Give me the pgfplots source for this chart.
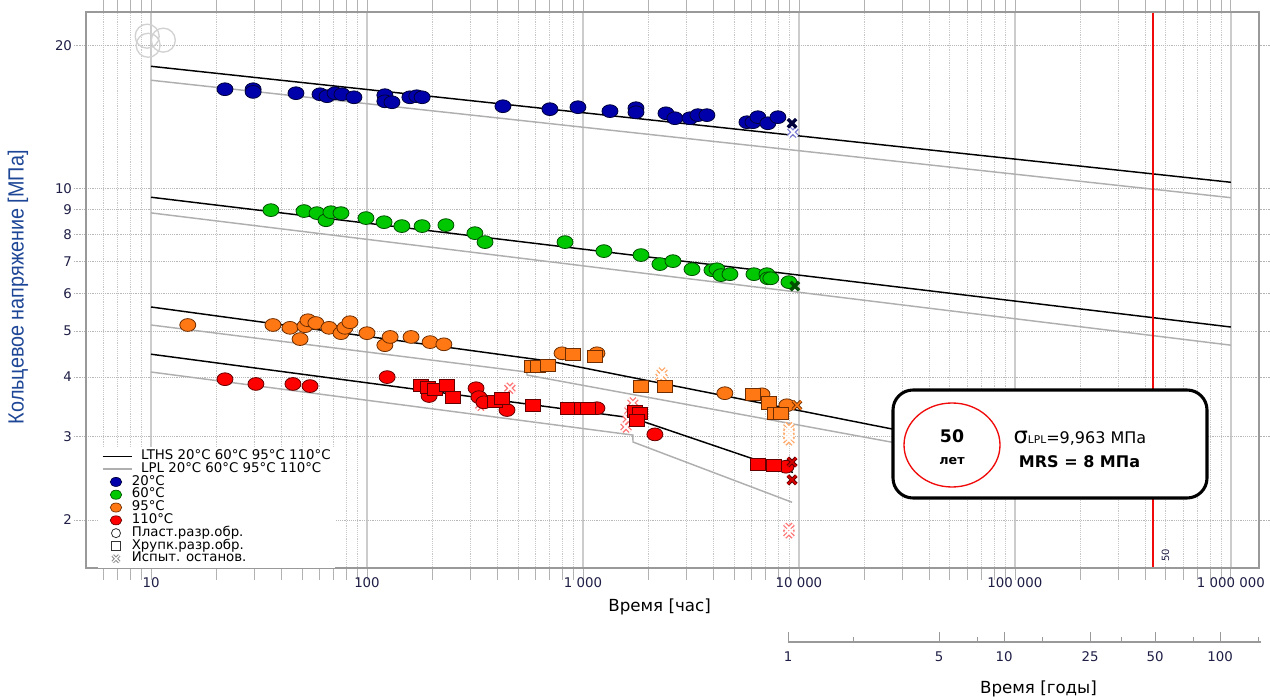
\documentclass[border=0pt]{standalone}
\usepackage{fontspec}
\setmainfont{DejaVu Sans}
\newfontfamily\ylabfont[FakeStretch=0.9]{Liberation Sans}
\usepackage{pgfplots}
\pgfplotsset{compat=1.18}
\definecolor{bluef}{RGB}{0,0,170}
\definecolor{blued}{RGB}{0,0,60}
\definecolor{greenf}{RGB}{0,200,0}
\definecolor{greend}{RGB}{0,80,0}
\definecolor{orangef}{RGB}{255,120,20}
\definecolor{oranged}{RGB}{110,45,0}
\definecolor{redf}{RGB}{255,0,0}
\definecolor{redd}{RGB}{100,0,0}
\definecolor{lpl}{RGB}{175,175,175}
\definecolor{ticktxt}{RGB}{30,30,70}
\definecolor{ylab}{RGB}{30,70,150}
\definecolor{redline}{RGB}{240,10,10}
\pgfplotsset{
 cm/.style 2 args={only marks, mark=*, mark size=6pt, mark options={solid, yscale=0.8, line width=0.6pt, draw=#2, fill=#1}},
 sm/.style 2 args={only marks, mark=square*, mark size=5.5pt, mark options={solid, yscale=0.82, line width=0.6pt, draw=#2, fill=#1}},
 xd/.style 2 args={only marks, mark=x, mark size=4.5pt, mark options={solid, line width=#2, draw=#1}},
}
\begin{document}
\begin{tikzpicture}
\useasboundingbox (0,0) rectangle (952.5pt,522pt);
\begin{axis}[
 name=main, at={(64.5pt,96pt)}, anchor=south west,
 scale only axis, width=879.75pt, height=417pt,
 xmode=log, ymode=log, xmin=5, xmax=1.35e6, ymin=1.585, ymax=23.5,
 xtick={10,100,1000,10000,100000,1000000},
 xticklabels={10,100,1 000,10 000,100 000,1 000 000},
 minor xtick={6,7,8,9,20,30,40,50,60,70,80,90,200,300,400,500,600,700,800,900,2000,3000,4000,5000,6000,7000,8000,9000,20000,30000,40000,50000,60000,70000,80000,90000,200000,300000,400000,500000,600000,700000,800000,900000},
 ytick={2,3,4,5,6,7,8,9,10,20},
 yticklabels={2,3,4,5,6,7,8,9,10,20},
 minor ytick={},
 xmajorgrids, xminorgrids, ymajorgrids,
 major x grid style={solid, draw=black!20, line width=1.2pt},
 minor x grid style={densely dotted, draw=black!22, line width=0.6pt},
 major y grid style={densely dotted, draw=black!28, line width=0.6pt},
 axis line style={draw=black!40, line width=0.9pt},
 tick align=outside, major tick length=9pt, minor tick length=9pt,
 x tick style={draw=black!30, line width=0.6pt},
 minor x tick style={draw=black!30, line width=0.6pt},
 y tick style={draw=black!30, densely dotted, line width=0.6pt},
 tick label style={font=\fontsize{10}{12}\selectfont, text=ticktxt},
 xticklabel style={yshift=5pt},
 yticklabel style={xshift=2pt},
 xlabel={Время [час]},
 xlabel style={font=\fontsize{12.5}{14}\selectfont, at={(axis description cs:0.489,0)}, anchor=center, yshift=-29pt},
 ylabel={\ylabfont Кольцевое напряжение [МПа]},
 ylabel style={font=\fontsize{16.5}{17}\selectfont, text=ylab, at={(axis description cs:0,0.505)}, anchor=center, rotate=0, yshift=51pt},
 clip=true,
 legend style={at={(axis description cs:0.010,0.2176)}, anchor=north west, draw=none, fill=white, inner xsep=3pt, inner ysep=2pt, row sep=0pt, column sep=6pt, font=\fontsize{10}{10}\selectfont, nodes={inner sep=0.4pt, text height=6.8pt, text depth=2.0pt}},
 legend cell align=left,
]
% legend
\addlegendimage{legend image code/.code={\draw[black, line width=1pt] (0pt,0pt)--(22pt,0pt);}}
\addlegendentry{LTHS 20°C 60°C 95°C 110°C}
\addlegendimage{legend image code/.code={\draw[lpl, line width=1pt] (0pt,0pt)--(22pt,0pt);}}
\addlegendentry{LPL 20°C 60°C 95°C 110°C}
\addlegendimage{legend image code/.code={\draw[draw=blued, fill=bluef, line width=0.5pt] (10pt,0pt) ellipse (4.3pt and 3.4pt);}}
\addlegendentry{\hspace*{-7pt}20°C}
\addlegendimage{legend image code/.code={\draw[draw=greend, fill=greenf, line width=0.5pt] (10pt,0pt) ellipse (4.3pt and 3.4pt);}}
\addlegendentry{\hspace*{-7pt}60°C}
\addlegendimage{legend image code/.code={\draw[draw=oranged, fill=orangef, line width=0.5pt] (10pt,0pt) ellipse (4.3pt and 3.4pt);}}
\addlegendentry{\hspace*{-7pt}95°C}
\addlegendimage{legend image code/.code={\draw[draw=redd, fill=redf, line width=0.5pt] (10pt,0pt) ellipse (4.3pt and 3.4pt);}}
\addlegendentry{\hspace*{-7pt}110°C}
\addlegendimage{legend image code/.code={\draw[black!80, line width=0.6pt] (10pt,0pt) circle (3.4pt);}}
\addlegendentry{\hspace*{-7pt}Пласт.разр.обр.}
\addlegendimage{legend image code/.code={\draw[black!80, line width=0.6pt] (6.6pt,-3.2pt) rectangle (13.4pt,3.2pt);}}
\addlegendentry{\hspace*{-7pt}Хрупк.разр.обр.}
\addlegendimage{legend image code/.code={\draw[black!45, line width=2.4pt] (7.5pt,-2.5pt)--(12.5pt,2.5pt) (7.5pt,2.5pt)--(12.5pt,-2.5pt); \draw[white, line width=0.9pt] (7.5pt,-2.5pt)--(12.5pt,2.5pt) (7.5pt,2.5pt)--(12.5pt,-2.5pt);}}
\addlegendentry{\hspace*{-7pt}Испыт. останов.}
% faded circles top-left
\addplot[forget plot, only marks, mark=o, mark size=9pt, mark options={draw=black!18, line width=1pt}] coordinates {(9.7,20.0) (11.4,20.5) (9.6,20.9)};
% LPL lines
\addplot[forget plot, lpl, line width=1.1pt] coordinates {(10,16.88) (1000000,9.55)};
\addplot[forget plot, lpl, line width=1.1pt] coordinates {(10,8.87) (1000000,4.67)};
\addplot[forget plot, lpl, line width=1.1pt] coordinates {(10,5.15) (550,4.10) (551,4.04) (438000,2.31)};
\addplot[forget plot, lpl, line width=1.1pt] coordinates {(10,4.10) (1704,3.02) (1705,2.92) (9290,2.18)};
% LTHS lines
\addplot[forget plot, black, line width=1.1pt] coordinates {(10,18.06) (1000000,10.29)};
\addplot[forget plot, black, line width=1.1pt] coordinates {(10,9.57) (1000000,5.10)};
\addplot[forget plot, black, line width=1.1pt] coordinates {(10,5.62) (703,4.32) (438000,2.42)};
\addplot[forget plot, black, line width=1.1pt] coordinates {(10,4.47) (1704,3.28) (9380,2.52)};
% light hatched (test stopped) marks
\addplot[forget plot, xd={red!55}{3.4pt}] coordinates {(459,3.79) (337,3.49) (1703,3.53) (1650,3.40) (1620,3.26) (1583,3.14) (8990,1.92) (8990,1.88)};
\addplot[forget plot, xd={white}{1.4pt}] coordinates {(459,3.79) (337,3.49) (1703,3.53) (1650,3.40) (1620,3.26) (1583,3.14) (8990,1.92) (8990,1.88)};
\addplot[forget plot, xd={orangef!65}{3.4pt}] coordinates {(2323,4.08) (2300,4.00) (8990,3.13) (8990,3.07) (8990,3.01) (8990,2.95)};
\addplot[forget plot, xd={white}{1.4pt}] coordinates {(2323,4.08) (2300,4.00) (8990,3.13) (8990,3.07) (8990,3.01) (8990,2.95)};
\addplot[forget plot, xd={bluef!50}{3.4pt}] coordinates {(9380,13.12)};
\addplot[forget plot, xd={white}{1.4pt}] coordinates {(9380,13.12)};
% 20 C
\addplot[forget plot, cm={bluef}{blued}] coordinates {
(22.0,16.16) (29.7,16.16) (29.7,15.95) (46.9,15.85) (60.6,15.77) (65.3,15.62) (71.1,15.85) (76.6,15.77) (87.0,15.54)
(121,15.70) (121,15.24) (130.5,15.17) (158,15.54) (170,15.62) (180,15.54) (426,14.88) (703,14.67) (948,14.81)
(1334,14.53) (1760,14.74) (1760,14.45) (2423,14.38) (2665,14.04) (3128,14.04) (3406,14.25) (3750,14.25)
(5745,13.77) (6124,13.77) (6457,14.11) (7183,13.70) (7996,14.11)};
\addplot[forget plot, xd={blued}{2.6pt}] coordinates {(9290,13.70)};
% 60 C
\addplot[forget plot, cm={greenf}{greend}] coordinates {
(35.9,8.99) (51.1,8.95) (58.7,8.86) (64.6,8.56) (68.1,8.90) (75.8,8.86) (98.9,8.65) (120,8.48) (145,8.32)
(180,8.32) (232,8.36) (316,8.04) (352,7.70) (826,7.70) (1250,7.37) (1857,7.23) (2271,6.92) (2611,7.02)
(3198,6.75) (3958,6.72) (4172,6.75) (4355,6.56) (4793,6.59) (6191,6.59) (7110,6.59) (7183,6.46) (7413,6.46) (8990,6.34)};
\addplot[forget plot, xd={greend}{2.6pt}] coordinates {(9573,6.22)};
% 95 C
\addplot[forget plot, cm={orangef}{oranged}] coordinates {
(14.8,5.15) (36.7,5.15) (44.0,5.08) (49.0,4.81) (51.6,5.12) (53.3,5.27) (58.0,5.20) (66.7,5.08) (75.8,4.95)
(79.1,5.08) (83.4,5.22) (100,4.95) (121,4.67) (128,4.86) (160,4.86) (196,4.74) (227,4.69) (800,4.49) (1161,4.49)
(4539,3.70) (6745,3.68) (8795,3.49)};
\addplot[forget plot, sm={orangef}{oranged}] coordinates {
(581,4.22) (619,4.22) (689,4.24) (899,4.47) (1137,4.43) (1857,3.83) (2398,3.83) (6124,3.68) (7264,3.53) (7745,3.36) (8260,3.36)};
\addplot[forget plot, xd={oranged}{2.6pt}] coordinates {(9795,3.49)};
\addplot[forget plot, xd={orangef}{1.3pt}] coordinates {(9795,3.49)};
% 110 C
\addplot[forget plot, cm={redf}{redd}] coordinates {
(22.0,3.96) (30.6,3.87) (45.4,3.87) (54.5,3.83) (124,4.00) (194,3.65) (320,3.79) (330,3.63) (348,3.54) (445,3.41)
(1161,3.44) (2153,3.03) (8710,2.59)};
\addplot[forget plot, sm={redf}{redd}] coordinates {
(178,3.85) (192,3.81) (206,3.77) (235,3.85) (250,3.63) (392,3.56) (422,3.61) (587,3.48) (853,3.43) (989,3.44)
(1054,3.44) (1741,3.38) (1836,3.36) (1778,3.25) (6457,2.62) (7663,2.61)};
\addplot[forget plot, xd={redd}{2.8pt}] coordinates {(9290,2.65) (9290,2.43)};
\addplot[forget plot, xd={redf!85!black}{1.3pt}] coordinates {(9290,2.65) (9290,2.43)};
% 50 label
\node[rotate=90, anchor=north west, font=\fontsize{7.5}{8}\selectfont, text=ticktxt, inner sep=1pt] at (axis cs:470000,1.62) {50};
\end{axis}
% years axis
\begin{axis}[
 at={(591pt,40.5pt)}, anchor=south west, scale only axis, width=354.5pt, height=20pt,
 xmode=log, xmin=1, xmax=154, ymin=0, ymax=1,
 axis x line*=bottom, axis y line=none,
 xtick={1,5,10,25,50,100}, xticklabels={1,5,10,25,50,100},
 minor xtick={2,7.5,15,35,75,150},
 tick align=inside, major tick length=7.5pt, minor tick length=4pt,
 axis line style={draw=black!40, line width=0.8pt},
 x tick style={draw=black!40, line width=0.6pt},
 minor x tick style={draw=black!40, line width=0.6pt},
 tick label style={font=\fontsize{10}{12}\selectfont, text=ticktxt},
 xticklabel style={yshift=-4pt},
 xlabel={Время [годы]},
 xlabel style={font=\fontsize{12.5}{14}\selectfont, at={(axis description cs:0.53,0)}, anchor=center, yshift=-35pt},
]
\addplot[draw=none] coordinates {(1,0.5) (100,0.5)};
\end{axis}
% red 50-year reference line (438000 h), drawn as a thin filled strip
\fill[redline] (864.3pt,96.5pt) rectangle (865.8pt,512.5pt);
% annotation box
\draw[line width=2.3pt, rounded corners=15pt, fill=white] (669.75pt,148.5pt) rectangle (905.25pt,229.5pt);
\draw[draw=redline, line width=1pt] (714pt,188.25pt) ellipse (36pt and 31.5pt);
\node[font=\bfseries\fontsize{13}{14}\selectfont, inner sep=0pt] at (714pt,195pt) {50};
\node[font=\bfseries\fontsize{9.5}{10}\selectfont, inner sep=0pt] at (714pt,176.5pt) {лет};
\node[anchor=base west, inner sep=0pt] at (760pt,189pt) {{\fontsize{17}{17}\selectfont σ}{\fontsize{8}{8}\selectfont LPL}{\fontsize{12}{12}\selectfont =9,963 МПа}};
\node[anchor=base west, inner sep=0pt, font=\bfseries\fontsize{12}{12}\selectfont] at (764pt,171.5pt) {MRS = 8 МПа};
\end{tikzpicture}
\end{document}
